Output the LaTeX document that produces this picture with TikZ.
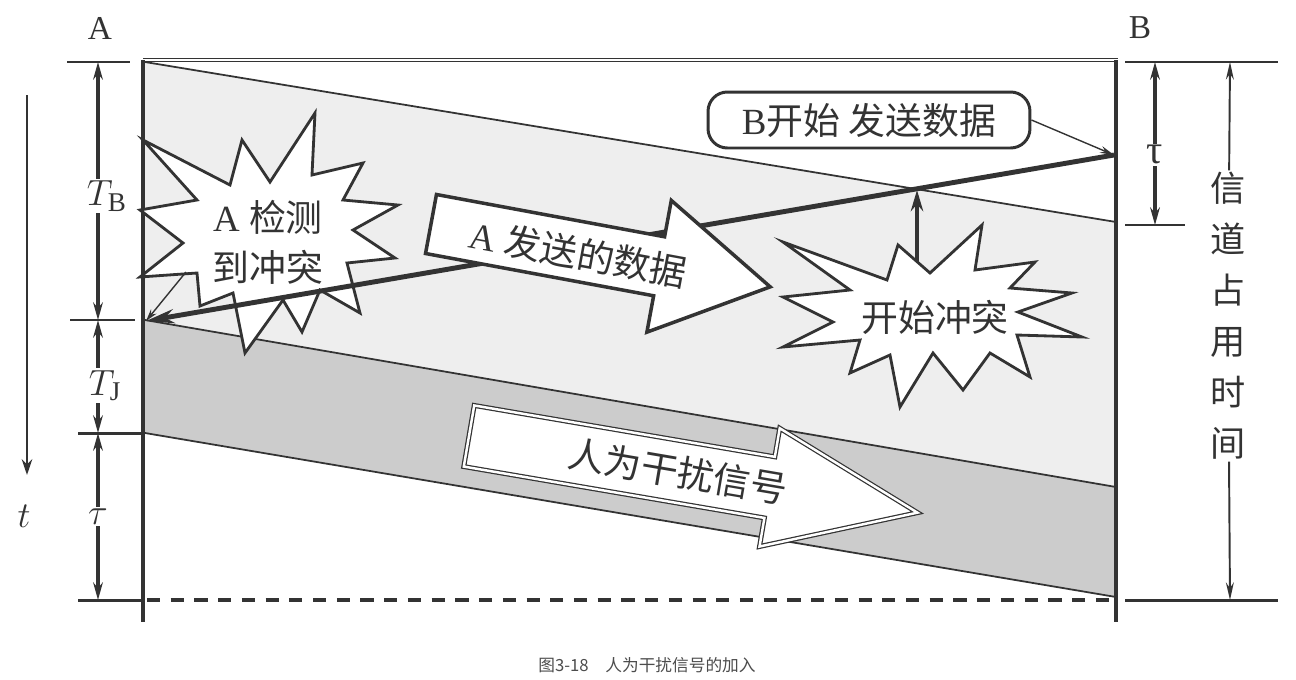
\documentclass[tikz,border=0pt]{standalone}
\usepackage{fontspec}
\setmainfont{Liberation Serif}
\newfontfamily\cjk{Noto Sans CJK SC}
\usetikzlibrary{arrows.meta,positioning,calc}
\definecolor{ink}{HTML}{333333}
\definecolor{paleband}{HTML}{EEEEEE}
\definecolor{jamband}{HTML}{CCCCCC}
\newcommand{\zh}[1]{{\cjk #1}}

\begin{document}
\begin{tikzpicture}[x=0.02cm,y=-0.02cm,line join=miter,
                    >={Stealth[length=10pt,width=5.5pt]}]
  \tikzstyle{frame}=[draw=ink,line width=2.3pt]
  \tikzstyle{edge}=[draw=ink,line width=1pt]
  \tikzstyle{tick}=[draw=ink,line width=1.7pt]
  \tikzstyle{dim}=[draw=ink,line width=2.1pt,<->]
  \tikzstyle{burst}=[draw=ink,fill=white,line width=1.6pt]
  \tikzstyle{big}=[font=\fontsize{21}{28.5}\selectfont,text=ink]
  \tikzstyle{sym}=[font=\fontsize{22}{24}\selectfont,text=ink,fill=white,inner sep=1pt]

  \useasboundingbox (0,0) rectangle (1296,680);

  \node[font=\fontsize{19}{22}\selectfont,text=ink] (A) at (100,28) {A};
  \node[font=\fontsize{19}{22}\selectfont,text=ink] (B) at (1140,28) {B};

  \coordinate (bstart) at (1114,155);
  \coordinate (ahit)   at (146,321);
  \coordinate (clash0) at (917,262);
  \coordinate (clash1) at (917,190);

  % channel seen in time
  \fill[paleband] (145,62) -- (1116,222) -- (1116,487) -- (145,320) -- cycle;
  \fill[jamband] (145,320) -- (1116,487) -- (1116,597) -- (145,433) -- cycle;
  \draw[edge] (145,62) -- (1116,222);
  \draw[edge] (145,320) -- (1116,487);
  \draw[edge] (145,433) -- (1116,597);

  \draw[ink,line width=0.7pt,double=white,double distance=0.8pt] (143,60) -- (1118,60);
  \draw[frame] (143,60) -- (143,622);
  \draw[frame] (1116,60) -- (1116,622);
  \draw[ink,line width=2.5pt,dash pattern=on 7.5pt off 6pt] (147,600) -- (1114,600);

  \draw[tick] (67,62) -- (130,62);
  \draw[tick] (70,320) -- (135,320);
  \draw[tick] (78,433) -- (143,433);
  \draw[tick] (78,600) -- (143,600);
  \draw[tick] (1125,62) -- (1278,62);
  \draw[tick] (1125,225) -- (1185,225);
  \draw[tick] (1125,600) -- (1278,600);

  \draw[dim] (98,62) -- node[sym,pos=.52,xshift=5pt] (TB) {$T_{\mathrm{B}}$} (98,320);
  \draw[dim] (98,320) -- node[sym,pos=.58,xshift=4pt] (TJ) {$T_{\mathrm{J}}$} (98,433);
  \draw[dim] (98,433) -- node[sym,pos=.5] (tauA) {$\tau$} (98,600);
  \draw[dim] (1155,62) -- node[sym,pos=.57,font=\fontsize{23}{24}\selectfont] (tauB) {τ} (1155,225);

  \coordinate (t0) at (27,95);
  \coordinate (t1) at (27,475);
  \draw[ink,line width=1.7pt,-{Stealth[length=9pt,width=6pt]}] (t0) -- (t1);
  \node[sym] (t) at (24,516) {$t$};

  \coordinate (c0) at (1230,62);
  \coordinate (c1) at (1230,600);
  \node[font=\cjk\fontsize{20}{29}\selectfont,text=ink,align=center,fill=white,inner sep=1pt]
       (occ) at (1228,316) {信\\道\\占\\用\\时\\间};
  \draw[ink,line width=1.1pt,-{Stealth[length=10pt,width=4.5pt]}] (occ) -- (c0);
  \draw[ink,line width=1.1pt,-{Stealth[length=10pt,width=4.5pt]}] (occ) -- (c1);

  \draw[burst] (143,140) -- (230,185) -- (242,140) -- (270,182) -- (315,113) -- (312,175)
     -- (363,163) -- (343,200) -- (398,205) -- (353,230) -- (395,258) -- (347,263)
     -- (360,313) -- (320,290) -- (302,332) -- (283,300) -- (245,353) -- (233,293)
     -- (200,306) -- (197,273) -- (140,277) -- (183,243) -- (140,210) -- (197,200) -- cycle;
  \node[big,align=center] (detect) at (268,242) {A \zh{检测}\\\zh{到冲突}};
  \coordinate (detect0) at (186,272);
  \draw[ink,line width=0.8pt,-{Stealth[length=7pt,width=4pt]}] (detect0) -- (ahit);

  \draw[ink,line width=2.8pt,-{Stealth[length=16pt,width=8pt]}] (bstart) -- (ahit);

  \begin{scope}[shift={(431,224)},rotate=-10.5]
    \draw[ink,fill=white,line width=2pt] (0,-30) -- (232,-30) -- (232,-67) -- (345,0)
       -- (232,67) -- (232,30) -- (0,30) -- cycle;
    \node[big,transform shape] (asend) at (150,2) {A \zh{发送的数据}};
  \end{scope}

  \draw[burst] (783,242) -- (887,280) -- (898,245) -- (930,273) -- (982,225) -- (975,270)
     -- (1035,262) -- (1010,288) -- (1072,293) -- (1018,312) -- (1082,337) -- (1017,335)
     -- (1030,377) -- (990,353) -- (963,390) -- (933,353) -- (900,407) -- (890,355)
     -- (850,373) -- (860,340) -- (783,347) -- (833,322) -- (783,297) -- (850,290) -- cycle;
  \node[big] (clash) at (935,317) {\zh{开始冲突}};
  \draw[ink,line width=2.8pt,-{Stealth[length=12pt,width=7pt]}] (clash0) -- (clash1);

  \begin{scope}[shift={(469,436)},rotate=-9.7]
    \draw[ink,fill=white,line width=0.7pt,double=white,double distance=1.4pt]
       (0,-31) -- (305,-31) -- (305,-60) -- (455,0) -- (305,60) -- (305,31) -- (0,31) -- cycle;
    \node[big,transform shape] (jam) at (212,0) {\zh{人为干扰信号}};
  \end{scope}

  \node[draw=ink,line width=1.7pt,rounded corners=11pt,minimum width=6.44cm,
        minimum height=1.12cm,big] (bsend) at (869,120) {B\zh{开始 发送数据}};
  \draw[ink,line width=0.8pt,-{Stealth[length=8pt,width=4pt]}] (bsend.east) -- (bstart);

  \node[font=\cjk\fontsize{9.5}{11}\selectfont,text=black!70] (cap) at (647,665)
       {图3-18\quad 人为干扰信号的加入};
\end{tikzpicture}
\end{document}
